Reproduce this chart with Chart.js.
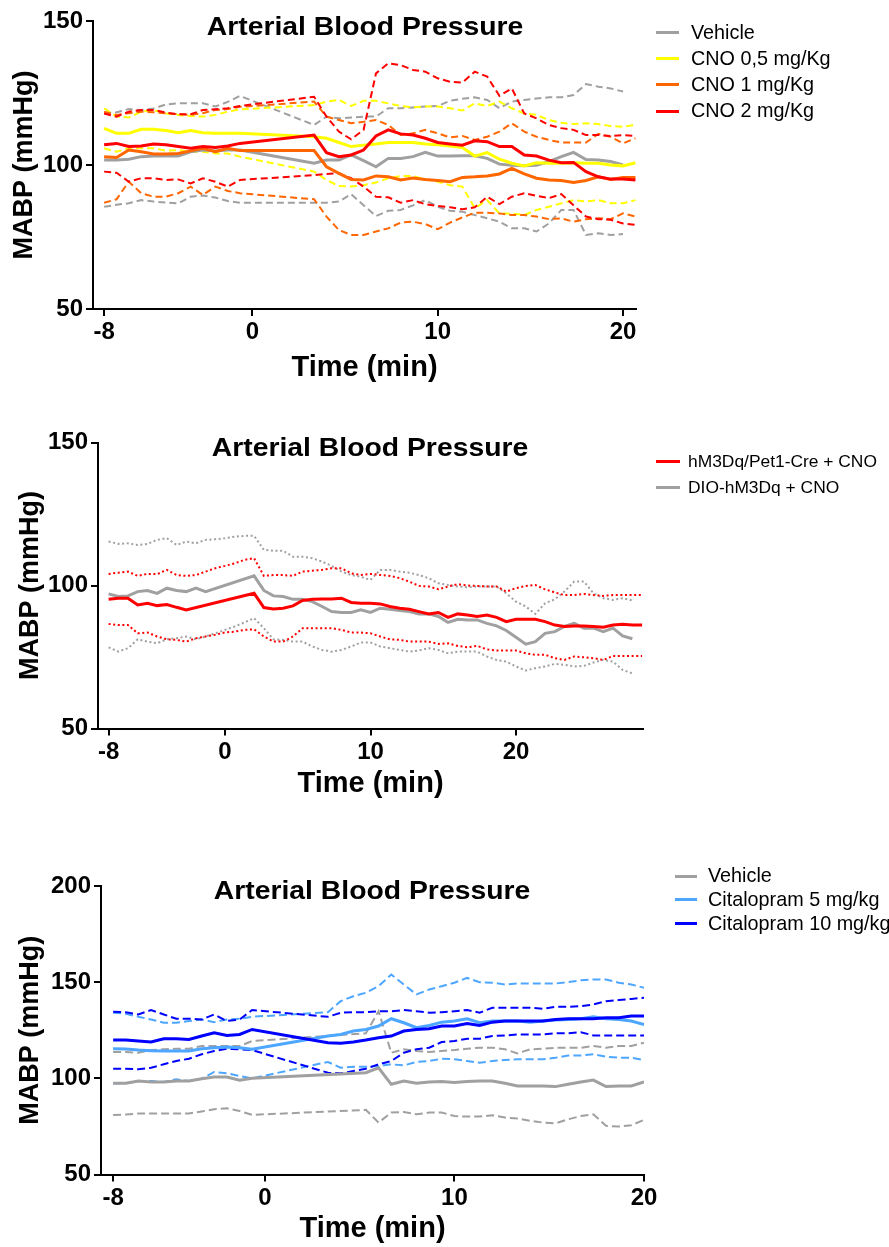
<!DOCTYPE html>
<html><head><meta charset="utf-8">
<script src="https://cdn.jsdelivr.net/npm/chart.js@4.4.1/dist/chart.umd.min.js"></script>
<style>
body{margin:0;background:#fff;width:889px;height:1247px;position:relative;overflow:hidden;font-family:"Liberation Sans",Arial,sans-serif;color:#000}
canvas{position:absolute;left:0}
.ttl{position:absolute;font-weight:bold;font-size:26px;line-height:26px;white-space:nowrap;transform:translateX(-50%) scaleX(1.09);transform-origin:50% 50%}
.lt{position:absolute;white-space:nowrap}
.ll{position:absolute;height:3px}
</style></head>
<body>
<canvas id="c1" width="889" height="400" style="top:0"></canvas>
<canvas id="c2" width="889" height="400" style="top:420px"></canvas>
<canvas id="c3" width="889" height="387" style="top:860px"></canvas>
<div id="overlay"></div>
<script>
// ---------- Panel 1 data ----------
const times1 = [-8,-7.33,-6.67,-6,-5.33,-4.67,-4,-3.33,-2.67,-2,-1.33,-0.67,3.33,4,4.67,5.33,6,6.67,7.33,8,8.67,9.33,10,10.67,11.33,12,12.67,13.33,14,14.67,15.33,16,16.67,17.33,18,18.67,19.33,20,20.67];
const veh1Mean = [101.7,101.7,102.0,102.9,103.1,103.1,103.1,104.6,105.2,104.9,105.2,105.2,100.6,101.7,101.7,103.5,101.5,99.4,102.3,102.3,102.9,104.4,103.1,103.1,103.2,103.2,102.3,100.3,99.9,99.7,99.9,101.2,102.9,104.4,101.9,101.7,101.2,100.0,null];
const veh1Up = [117.9,118.3,119.4,119.1,119.6,121.0,121.4,121.4,121.4,120.3,121.9,124.0,113.9,116.8,116.2,116.5,116.8,116.8,119.7,119.7,120.0,120.3,120.5,122.3,123.0,123.5,122.6,119.7,122.0,122.6,123.1,123.5,123.5,124.3,128.1,127.2,126.6,125.5,null];
const veh1Low = [85.5,86.2,86.7,87.8,87.3,87.0,86.7,89.0,89.4,88.7,87.5,86.9,86.9,86.9,87.3,89.9,86.0,82.3,84.1,84.4,86.0,87.8,85.5,84.1,83.8,82.6,81.5,80.3,78.0,78.0,76.9,79.7,84.4,84.4,75.7,76.3,75.7,76.0,null];
const cno05Mean = [112.7,111.0,111.0,112.4,112.4,112.0,111.2,112.0,111.2,111.0,111.0,111.0,109.8,109.3,107.8,106.4,106.9,107.3,107.8,107.8,107.8,107.3,107.0,106.6,106.1,103.1,104.3,102.0,100.6,99.7,100.8,100.6,100.6,100.8,100.6,100.6,100.0,99.7,100.8];
const cno05Up = [119.7,116.8,116.5,118.5,119.1,117.9,117.4,117.0,116.8,117.4,118.5,119.3,120.8,122.0,122.6,120.5,122.3,122.3,121.4,120.5,120.0,120.3,120.3,119.7,118.9,121.4,120.5,122.0,119.7,117.9,117.4,115.6,114.7,114.2,114.5,114.2,113.5,113.3,113.9];
const cno05Low = [105.8,104.6,105.8,105.8,105.8,105.0,105.2,104.6,104.6,104.0,104.0,102.9,97.7,94.8,92.7,92.5,93.0,93.9,95.4,96.2,96.2,95.0,94.2,93.0,92.5,85.0,87.8,83.2,83.2,82.6,84.4,85.5,86.7,87.8,87.3,87.8,86.7,86.7,87.8];
const cno1Mean = [102.9,102.6,105.2,104.6,103.8,103.8,104.0,104.9,105.8,104.6,105.8,105.0,105.0,99.4,97.1,95.0,94.8,96.2,95.9,94.8,95.5,95.0,94.6,94.2,95.7,95.9,96.2,96.9,98.8,96.9,95.4,94.8,94.6,93.9,94.6,95.9,95.0,95.7,95.7];
const cno1Up = [118.5,117.4,118.0,118.5,118.3,118.0,117.7,117.4,118.0,119.1,119.4,120.2,122.0,116.8,115.6,114.5,115.0,115.6,113.9,110.4,111.0,112.2,111.0,109.6,110.1,108.7,109.8,111.6,114.5,111.6,109.8,108.7,107.8,107.8,107.8,110.8,109.8,107.5,109.3];
const cno1Low = [86.9,88.1,94.2,90.2,89.0,89.0,90.2,92.5,89.6,92.5,91.0,90.2,88.1,82.1,77.4,75.7,75.7,76.9,78.0,80.0,80.3,79.5,77.7,80.0,81.8,83.4,83.4,83.2,82.6,82.6,82.1,81.2,81.5,80.3,81.2,81.5,81.2,83.2,82.1];
const cno2Mean = [107.0,107.5,106.4,106.6,107.3,107.0,106.4,105.8,106.4,106.1,106.6,107.5,110.4,104.3,102.9,103.5,105.2,110.1,112.2,110.8,110.4,109.3,107.8,107.3,106.9,108.4,108.1,106.4,106.4,103.5,103.1,101.7,100.8,100.9,97.7,95.9,95.1,95.1,94.8];
const cno2Up = [117.9,116.8,118.5,119.1,119.1,118.2,117.6,117.6,119.1,119.4,119.7,120.5,123.7,116.8,111.6,108.9,112.2,131.8,135.3,134.7,133.0,132.4,130.1,128.9,128.6,132.4,130.7,124.0,126.6,117.9,116.2,113.9,112.8,112.2,110.4,110.4,110.1,110.4,110.1];
const cno2Low = [97.7,97.3,94.2,95.4,95.4,94.8,95.0,93.6,95.4,94.2,92.5,94.8,96.5,96.9,97.1,95.4,92.5,89.0,88.8,86.9,87.8,86.4,85.8,85.3,84.6,85.3,89.0,86.4,89.0,90.2,89.3,88.5,89.9,86.0,82.1,81.2,81.0,79.7,79.2];

// ---------- Panel 2 data ----------
const times2 = [-8,-7.33,-6.67,-6,-5.33,-4.67,-4,-3.33,-2.67,-2,-1.33,-0.67,0,0.67,1.33,2,2.67,3.33,4,4.67,5.33,6,6.67,7.33,8,8.67,9.33,10,10.67,11.33,12,12.67,13.33,14,14.67,15.33,16,16.67,17.33,18,18.67,19.33,20,20.67,21.33,22,22.67,23.33,24,24.67,25.33,26,26.67,27.33,28,28.67];
const pet1Mean = [95.2,95.6,95.6,93.2,93.8,93.0,93.4,92.4,91.5,null,null,null,null,null,null,97.3,92.3,91.8,92.1,92.9,94.8,95.2,95.3,95.3,95.6,94.1,93.8,93.8,93.6,92.7,92.1,91.7,90.9,90.1,90.6,88.9,90.1,89.7,89.2,89.7,88.9,87.4,88.2,88.2,88.2,87.4,86.2,85.7,85.9,85.9,85.7,85.4,86.2,86.5,86.2,86.2];
const pet1Up = [104.1,104.5,104.9,103.4,104.1,104.0,105.5,103.7,103.4,103.7,104.9,106.1,106.9,107.8,109.0,109.6,103.4,103.7,103.7,103.4,104.9,105.2,105.5,106.1,106.1,104.3,103.7,104.1,103.7,103.4,102.6,101.4,99.9,99.7,98.7,99.7,100.5,100.0,99.9,99.7,99.7,97.9,99.1,99.9,100.2,98.7,97.6,96.7,96.7,97.1,96.7,96.4,96.7,96.7,96.7,96.7];
const pet1Low = [86.6,86.2,86.2,83.3,83.6,82.2,81.2,81.0,80.4,81.6,82.2,82.8,83.6,83.9,84.5,84.7,82.2,80.4,80.4,82.2,85.1,85.1,85.1,85.1,84.5,83.6,83.6,83.3,82.2,81.2,81.0,80.4,80.4,80.4,79.6,79.8,78.9,78.4,78.9,77.7,77.3,77.3,77.3,76.3,75.8,75.8,74.6,74.0,75.2,74.9,74.6,74.0,75.4,75.4,75.4,75.4];
const dioMean = [97.1,96.2,96.4,97.9,98.3,97.3,99.1,98.3,97.9,99.1,97.9,null,null,null,null,103.4,98.3,96.4,96.2,95.2,95.2,94.4,92.7,90.9,90.6,90.6,91.5,90.6,92.1,91.7,91.3,90.9,90.1,90.1,89.2,87.1,88.2,88.0,88.0,86.8,85.9,84.3,81.9,79.5,80.4,83.3,83.9,85.7,86.8,85.1,85.1,83.9,85.1,82.4,81.4,null];
const dioUp = [115.4,114.6,114.8,114.2,114.6,116.0,116.6,114.2,115.4,114.8,116.0,116.2,116.6,117.1,117.4,117.4,112.5,112.2,112.2,110.1,110.1,109.6,108.4,106.9,104.9,103.7,103.1,102.0,105.5,105.5,104.9,104.5,103.7,102.6,100.8,100.2,99.7,99.4,99.7,99.7,99.7,97.3,94.4,92.7,90.1,93.8,95.2,97.9,101.4,101.4,97.3,95.6,95.0,95.6,94.8,null];
const dioLow = [78.4,76.9,78.1,81.2,80.4,79.8,81.2,81.6,82.2,81.2,82.2,83.3,84.5,85.7,87.1,88.6,85.1,81.2,81.0,80.4,80.4,78.7,77.5,76.9,77.5,78.7,80.1,80.1,78.7,78.1,77.5,76.9,77.3,78.1,77.5,76.3,76.9,76.9,76.9,75.2,74.0,73.4,71.7,70.3,71.1,71.7,72.6,72.3,71.7,71.9,73.1,74.0,73.4,70.5,69.3,null];

// ---------- Panel 3 data ----------
const times3 = [-8,-7.33,-6.67,-6,-5.33,-4.67,-4,-3.33,-2.67,-2,-1.33,-0.67,3.33,4,4.67,5.33,6,6.67,7.33,8,8.67,9.33,10,10.67,11.33,12,12.67,13.33,14,14.67,15.33,16,16.67,17.33,18,18.67,19.33,20];
const veh3Mean = [97.4,97.4,98.6,98.1,98.1,98.6,98.6,99.8,100.7,100.7,99.0,100.0,null,null,null,102.9,105.5,96.9,98.6,97.4,98.1,98.4,97.8,98.4,98.6,98.6,97.4,96.0,96.0,96.0,95.7,96.9,98.1,99.1,95.7,96.0,96.0,98.1];
const veh3Up = [113.7,113.7,113.3,114.7,115.1,115.4,115.4,116.8,116.8,116.8,116.8,119.4,null,null,null,123.4,134.9,113.3,115.1,114.2,113.7,114.2,114.7,115.4,115.9,115.9,115.1,113.0,115.1,115.4,115.9,115.9,115.9,116.8,115.9,116.8,116.8,118.5];
const veh3Low = [81.0,81.2,81.7,81.7,81.7,81.7,81.7,82.8,83.9,84.4,83.0,81.0,null,null,null,83.6,77.0,82.2,82.5,81.3,82.2,82.2,80.4,80.1,80.1,80.8,79.6,79.1,77.9,77.0,76.6,78.7,80.4,81.3,75.3,74.9,75.6,78.4];
const cit5Mean = [115.4,115.2,114.7,114.4,114.2,114.2,114.2,115.4,115.9,116.3,115.9,115.1,122.0,122.8,124.6,125.4,127.2,131.0,128.9,126.3,127.5,129.2,129.8,131.0,128.9,129.8,129.8,129.8,129.2,129.8,130.3,130.6,131.0,132.0,131.0,130.6,129.8,128.0];
const cit5Up = [134.1,133.6,132.0,130.6,128.9,128.9,129.8,130.6,129.2,130.6,131.0,132.0,134.4,140.1,142.7,144.5,147.9,154.0,148.8,143.6,146.2,147.9,149.7,152.2,150.0,149.7,148.8,149.3,149.3,149.3,149.3,150.0,151.0,151.4,151.4,149.7,148.8,147.1];
const cit5Low = [97.4,97.4,98.6,98.6,98.1,99.5,98.6,99.8,103.3,102.6,101.2,100.0,108.5,105.5,106.0,106.0,106.4,107.3,106.7,108.5,109.0,110.2,109.9,109.0,108.1,109.0,109.5,109.9,109.9,109.9,110.7,111.9,111.9,112.5,111.2,110.7,110.7,109.5];
const cit10Mean = [119.9,119.9,119.4,118.9,120.6,120.6,120.2,122.0,123.7,122.3,122.8,125.4,118.5,118.2,118.9,119.9,121.1,122.0,124.6,125.4,125.8,127.2,127.2,128.5,127.5,129.2,129.8,129.8,129.8,129.8,130.6,131.0,131.0,131.0,131.5,131.5,132.4,132.4];
const cit10Up = [134.6,134.4,133.2,135.5,133.2,131.0,131.0,130.6,133.2,129.8,130.6,135.5,132.0,134.1,134.4,134.4,134.9,134.9,135.5,134.9,134.1,134.4,134.9,135.5,134.1,136.7,136.7,136.7,136.7,136.2,137.2,137.2,137.5,138.4,140.1,140.7,141.3,141.9];
const cit10Low = [105.0,105.0,104.7,105.5,107.3,109.0,110.2,112.5,114.2,115.4,115.1,114.7,102.9,102.6,103.8,105.0,107.3,109.0,113.3,115.1,115.9,118.9,119.4,120.6,120.6,122.0,122.3,122.8,122.8,122.8,123.4,123.4,124.0,122.3,122.3,122.3,122.3,122.3];

// ---------- Ticks, labels ----------
const xTicks1 = [-8, 0, 10, 20];
const xTicks2 = [-8, 0, 10, 20];
const xTicks3 = [-8, 0, 10, 20];
const yTicks1 = [50, 100, 150];
const yTicks2 = [50, 100, 150];
const yTicks3 = [50, 100, 150, 200];
const chartTitle = 'Arterial Blood Pressure';
const xTitle = 'Time (min)';
const yTitle = 'MABP (mmHg)';
const legend1 = ['Vehicle', 'CNO 0,5 mg/Kg', 'CNO 1 mg/Kg', 'CNO 2 mg/Kg'];
const legend2 = ['hM3Dq/Pet1-Cre + CNO', 'DIO-hM3Dq + CNO'];
const legend3 = ['Vehicle', 'Citalopram 5 mg/kg', 'Citalopram 10 mg/kg'];

// ---------- Styles ----------
const GREY = '#a0a0a0', YEL = '#ffff00', ORA = '#ff6600', RED = '#ff0000', LBLUE = '#4da6ff', BLUE = '#0000ff';
const FONT = '"Liberation Sans", Arial, sans-serif';

function ds(times, vals, color, kind) {
  const d = {
    data: times.map((t, i) => ({x: t, y: vals[i]})),
    borderColor: color, backgroundColor: color, fill: false,
    pointRadius: 0, tension: 0, spanGaps: true, borderCapStyle: 'butt'
  };
  if (kind === 'mean') { d.borderWidth = 3; }
  else if (kind === 'dash') { d.borderWidth = 2; d.borderDash = [7, 4]; }
  else if (kind === 'dash3') { d.borderWidth = 2; d.borderDash = [8, 4]; }
  else if (kind === 'dot') { d.borderWidth = 2; d.borderDash = [2, 2.6]; }
  return d;
}

function makeChart(id, datasets, g) {
  const axisCommon = {
    grid: {display: true, drawOnChartArea: false, drawTicks: true, tickLength: 7, color: '#000', lineWidth: 2},
    border: {display: true, color: '#000', width: 2}
  };
  new Chart(document.getElementById(id), {
    type: 'line',
    data: {datasets},
    options: {
      responsive: false, animation: false, devicePixelRatio: 1,
      layout: {padding: {left: 0, top: g.top, right: g.right, bottom: g.bottom}},
      plugins: {legend: {display: false}, tooltip: {enabled: false}, title: {display: false}},
      scales: {
        x: Object.assign({}, axisCommon, {
          type: 'linear', min: g.xmin, max: g.xmax,
          afterBuildTicks: s => { s.ticks = g.xTicks.map(v => ({value: v})); },
          afterFit: s => { s.height = g.xh; s.paddingLeft = 0; s.paddingRight = 0; },
          ticks: {autoSkip: false, maxRotation: 0, color: '#000', padding: 2,
                  font: {family: FONT, size: 24, weight: 'bold'}},
          title: {display: true, text: xTitle, color: '#000', padding: {top: 0, bottom: 0},
                  font: {family: FONT, size: 29, weight: 'bold'}}
        }),
        y: Object.assign({}, axisCommon, {
          type: 'linear', min: g.ymin, max: g.ymax,
          afterBuildTicks: s => { s.ticks = g.yTicks.map(v => ({value: v})); },
          afterFit: s => { s.width = g.yw; s.paddingTop = 0; s.paddingBottom = 0; },
          ticks: {autoSkip: false, color: '#000', padding: 3,
                  font: {family: FONT, size: 24, weight: 'bold'}},
          title: {display: true, text: yTitle, color: '#000', padding: {top: g.ytp, bottom: 0},
                  font: {family: FONT, size: 27, weight: 'bold'}}
        })
      }
    }
  });
}

// Panel 1
makeChart('c1', [
  ds(times1, cno2Mean, RED, 'mean'),
  ds(times1, cno1Mean, ORA, 'mean'),
  ds(times1, cno05Mean, YEL, 'mean'),
  ds(times1, veh1Mean, GREY, 'mean'),
  ds(times1, cno2Up, RED, 'dash'), ds(times1, cno2Low, RED, 'dash'),
  ds(times1, cno1Up, ORA, 'dash'), ds(times1, cno1Low, ORA, 'dash'),
  ds(times1, cno05Up, YEL, 'dash'), ds(times1, cno05Low, YEL, 'dash'),
  ds(times1, veh1Up, GREY, 'dash'), ds(times1, veh1Low, GREY, 'dash')
], {top: 21, right: 253, bottom: 15, xh: 76, yw: 93, ytp: 8.5, xmin: -8.6, xmax: 20.7, ymin: 50, ymax: 150, xTicks: xTicks1, yTicks: yTicks1});

// Panel 2
makeChart('c2', [
  ds(times2, pet1Mean, RED, 'mean'),
  ds(times2, dioMean, GREY, 'mean'),
  ds(times2, pet1Up, RED, 'dot'), ds(times2, pet1Low, RED, 'dot'),
  ds(times2, dioUp, GREY, 'dot'), ds(times2, dioLow, GREY, 'dot')
], {top: 22.7, right: 246, bottom: 18.8, xh: 72.7, yw: 98, ytp: 14.5, xmin: -8.73, xmax: 28.73, ymin: 50, ymax: 150, xTicks: xTicks2, yTicks: yTicks2});

// Panel 3
makeChart('c3', [
  ds(times3, cit10Mean, BLUE, 'mean'),
  ds(times3, cit5Mean, LBLUE, 'mean'),
  ds(times3, veh3Mean, GREY, 'mean'),
  ds(times3, cit10Up, BLUE, 'dash3'), ds(times3, cit10Low, BLUE, 'dash3'),
  ds(times3, cit5Up, LBLUE, 'dash3'), ds(times3, cit5Low, LBLUE, 'dash3'),
  ds(times3, veh3Up, GREY, 'dash3'), ds(times3, veh3Low, GREY, 'dash3')
], {top: 26, right: 245, bottom: 0.2, xh: 72.3, yw: 101, ytp: 14.5, xmin: -8.64, xmax: 20, ymin: 50, ymax: 200, xTicks: xTicks3, yTicks: yTicks3});

// ---------- Titles and legends (HTML text) ----------
const ov = document.getElementById('overlay');
function addTitle(cx, top) {
  const d = document.createElement('div');
  d.className = 'ttl'; d.textContent = chartTitle;
  d.style.left = cx + 'px'; d.style.top = top + 'px';
  ov.appendChild(d);
}
addTitle(365, 13);
addTitle(370, 434);
addTitle(372, 877);

function addLegend(labels, colors, lineX, lineW, textX, rows, fs) {
  labels.forEach((lab, i) => {
    const cy = rows[i];
    const l = document.createElement('div');
    l.className = 'll';
    l.style.left = lineX + 'px'; l.style.width = lineW + 'px';
    l.style.top = (cy - 1.5) + 'px'; l.style.background = colors[i];
    ov.appendChild(l);
    const t = document.createElement('div');
    t.className = 'lt'; t.textContent = lab;
    t.style.fontSize = fs + 'px'; t.style.lineHeight = fs + 'px';
    const baseFromTop = (fs - 1.117 * fs) / 2 + 0.905 * fs;
    t.style.left = textX + 'px';
    t.style.top = (cy - (baseFromTop - 0.36 * fs)) + 'px';
    ov.appendChild(t);
  });
}
addLegend(legend1, [GREY, YEL, ORA, RED], 656, 23, 691, [32.5, 58.5, 84.5, 111], 19.8);
addLegend(legend2, [RED, GREY], 656, 24, 688, [461, 487], 17.4);
addLegend(legend3, [GREY, LBLUE, BLUE], 675, 22, 708, [876, 899.5, 923.5], 19.8);
</script>
</body></html>
